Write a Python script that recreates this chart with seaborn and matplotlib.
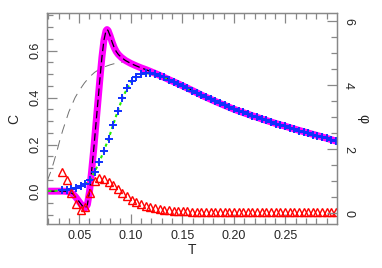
import numpy as np
import pandas as pd
import matplotlib
matplotlib.use("Agg")
import matplotlib.pyplot as plt
import seaborn as sns
from matplotlib.ticker import MultipleLocator

# temperature grid of the marker series
T_pts = [0.0335, 0.038, 0.0425, 0.047, 0.0515, 0.056, 0.0605, 0.065, 0.0695, 0.074,
         0.0785, 0.083, 0.0875, 0.092, 0.0965, 0.101, 0.1055, 0.110, 0.1145, 0.119,
         0.1235, 0.128, 0.1325, 0.137, 0.1415, 0.146, 0.1505, 0.155, 0.1595, 0.164,
         0.1685, 0.173, 0.1775, 0.182, 0.1865, 0.191, 0.1955, 0.200, 0.2045, 0.209,
         0.2135, 0.218, 0.2225, 0.227, 0.2315, 0.236, 0.2405, 0.245, 0.2495, 0.254,
         0.2585, 0.263, 0.2675, 0.272, 0.2765, 0.281, 0.2855, 0.290, 0.2945, 0.299]

# blue crosses
C_blue = [0.007, 0.009, 0.012, 0.017, 0.023, 0.032, 0.048, 0.085, 0.125, 0.175,
          0.225, 0.285, 0.345, 0.398, 0.440, 0.470, 0.490, 0.500, 0.504, 0.503,
          0.499, 0.494, 0.486, 0.477, 0.468, 0.459, 0.450, 0.440, 0.430, 0.421,
          0.411, 0.402, 0.393, 0.384, 0.376, 0.367, 0.359, 0.351, 0.344, 0.337,
          0.330, 0.323, 0.316, 0.309, 0.303, 0.297, 0.290, 0.284, 0.278, 0.272,
          0.266, 0.260, 0.254, 0.249, 0.243, 0.238, 0.232, 0.227, 0.221, 0.215]

# red triangles
C_red = [0.085, 0.048, -0.006, -0.052, -0.078, -0.066, -0.006, 0.046, 0.056, 0.052,
         0.043, 0.030, 0.013, -0.004, -0.020, -0.034, -0.045, -0.054, -0.061, -0.067,
         -0.071, -0.075, -0.077, -0.079, -0.081, -0.082, -0.083, -0.084, -0.085, -0.085,
         -0.086, -0.086, -0.086, -0.087, -0.087, -0.087, -0.087, -0.087, -0.088, -0.088,
         -0.088, -0.088, -0.088, -0.088, -0.088, -0.088, -0.088, -0.088, -0.088, -0.088,
         -0.088, -0.088, -0.088, -0.088, -0.088, -0.088, -0.088, -0.088, -0.088, -0.088]

# green dotted line starts a bit earlier than the crosses
T_green_start = [0.020, 0.025, 0.030]
C_green_start = [0.003, 0.003, 0.004]

# magenta curve (and black dashed on top of it)
T_line = [0.020, 0.025, 0.030, 0.035, 0.038, 0.041, 0.044, 0.047, 0.050, 0.053,
          0.056, 0.058, 0.060, 0.062, 0.064, 0.066, 0.068, 0.070, 0.072, 0.074,
          0.076, 0.077, 0.078, 0.080, 0.082, 0.084, 0.086, 0.088, 0.091, 0.095,
          0.100, 0.105, 0.110, 0.115, 0.120, 0.125, 0.130, 0.135, 0.140, 0.150,
          0.160, 0.170, 0.180, 0.190, 0.200, 0.210, 0.220, 0.230, 0.240, 0.250,
          0.260, 0.270, 0.280, 0.290, 0.300]
C_line = [0.002, 0.002, 0.002, 0.002, 0.001, -0.002, -0.010, -0.025, -0.043, -0.060,
          -0.070, -0.055, 0.000, 0.085, 0.175, 0.275, 0.375, 0.475, 0.570, 0.645,
          0.685, 0.690, 0.686, 0.663, 0.636, 0.613, 0.596, 0.584, 0.571, 0.558,
          0.546, 0.536, 0.527, 0.519, 0.510, 0.501, 0.491, 0.481, 0.471, 0.451,
          0.430, 0.408, 0.388, 0.369, 0.351, 0.335, 0.320, 0.305, 0.291, 0.278,
          0.265, 0.252, 0.240, 0.227, 0.214]

# gray dashed curve
T_gray = [0.019, 0.022, 0.025, 0.028, 0.031, 0.034, 0.037, 0.040, 0.043, 0.046,
          0.050, 0.055, 0.060, 0.065, 0.070, 0.075, 0.080, 0.085, 0.090, 0.095, 0.100]
C_gray = [0.045, 0.080, 0.120, 0.165, 0.215, 0.260, 0.300, 0.340, 0.370, 0.400,
          0.430, 0.462, 0.488, 0.508, 0.522, 0.532, 0.540, 0.546, 0.551, 0.553, 0.548]

sns.set_style("ticks")
plt.rcParams["font.family"] = ["Liberation Sans", "DejaVu Sans"]

fig = plt.figure(figsize=(3.82, 2.68), dpi=100)
ax = fig.add_axes([0.123, 0.164, 0.758, 0.787])

sns.lineplot(x=T_gray, y=C_gray, ax=ax, color="#707070", lw=0.7,
             linestyle=(0, (10, 7)), sort=False, estimator=None)
sns.lineplot(x=T_line, y=C_line, ax=ax, color="#ff00ff", lw=5,
             sort=False, estimator=None)
sns.lineplot(x=T_line, y=C_line, ax=ax, color="black", lw=0.9,
             linestyle=(0, (6, 3)), sort=False, estimator=None)
sns.lineplot(x=T_green_start + T_pts, y=C_green_start + C_blue, ax=ax,
             color="#22ee00", lw=1.5, linestyle=(0, (1.5, 1.5)),
             sort=False, estimator=None)
sns.lineplot(x=T_pts, y=C_blue, ax=ax, color="#1030ff", linestyle="none",
             marker="+", markersize=6, markeredgewidth=1.4,
             markeredgecolor="#1030ff", sort=False, estimator=None)
sns.lineplot(x=T_pts, y=C_red, ax=ax, color="red", linestyle="none",
             marker="^", markersize=5.5, markerfacecolor="none",
             markeredgecolor="red", markeredgewidth=1.0,
             sort=False, estimator=None)

ax.set_xlim(0.0188, 0.2995)
ax.set_ylim(-0.138, 0.76)
ax.xaxis.set_major_locator(MultipleLocator(0.05))
ax.xaxis.set_minor_locator(MultipleLocator(0.01))
ax.yaxis.set_major_locator(MultipleLocator(0.2))
ax.yaxis.set_minor_locator(MultipleLocator(0.05))
ax.xaxis.set_major_formatter(plt.FormatStrFormatter("%.2f"))
ax.yaxis.set_major_formatter(plt.FormatStrFormatter("%.1f"))
ax.set_xlabel("T", fontsize=10, labelpad=1)
ax.set_ylabel("C", fontsize=10, labelpad=6)

ax2 = ax.twinx()
ax2.set_ylim(-0.33, 6.26)
ax2.yaxis.set_major_locator(MultipleLocator(2))
ax2.yaxis.set_minor_locator(MultipleLocator(0.5))
ax2.set_ylabel("φ", fontsize=10, rotation=-90, labelpad=12)

gray = "#888888"
for a in (ax, ax2):
    for s in a.spines.values():
        s.set_color(gray)
        s.set_linewidth(0.9)
ax.tick_params(axis="x", which="both", direction="in", top=True, bottom=True,
               color=gray, labelsize=9, pad=4)
ax.tick_params(axis="y", which="both", direction="in", left=True, right=False,
               color=gray, labelsize=9, pad=4)
ax.tick_params(axis="y", labelrotation=90)
for lab in ax.get_yticklabels():
    lab.set_va("center")
ax2.tick_params(axis="y", which="both", direction="in", right=True, left=False,
                color=gray, labelsize=9, pad=4, labelrotation=-90)
for lab in ax2.get_yticklabels():
    lab.set_va("center")
for a in (ax, ax2):
    a.tick_params(which="major", length=7, width=0.9)
    a.tick_params(which="minor", length=4, width=0.9)

fig.savefig("out.png", dpi=100)
